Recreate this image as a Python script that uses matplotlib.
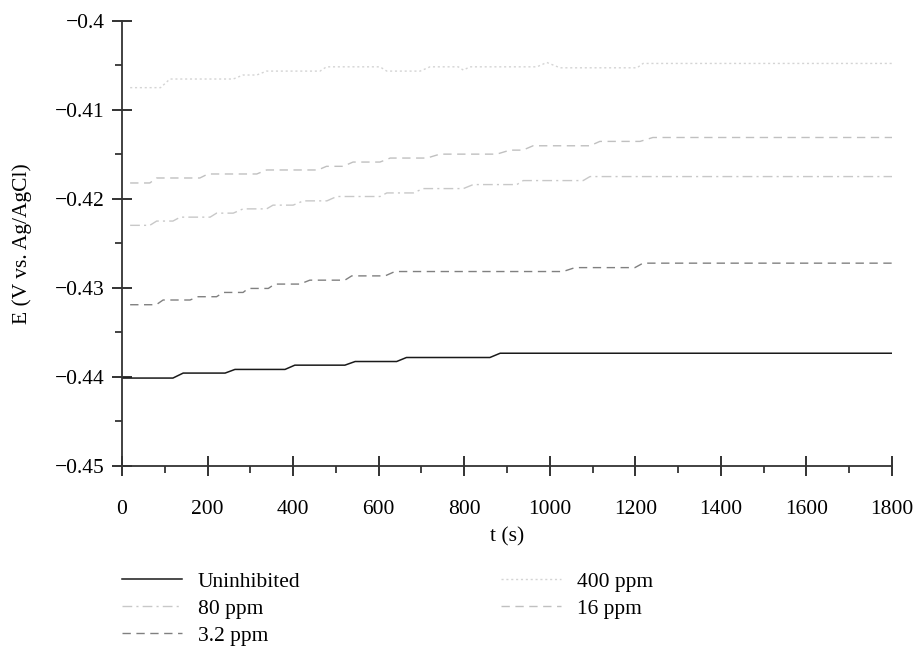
import numpy as np
import matplotlib
matplotlib.use("Agg")
import matplotlib.pyplot as plt

plt.rcParams['font.family'] = ['Liberation Serif', 'DejaVu Serif']

# open circuit potential vs time (hold points of each step)
t_uninh = [0, 119, 143, 241, 264, 381, 404, 521, 545, 642, 665, 860, 884, 1800]
e_uninh = [-0.44012, -0.44012, -0.43956, -0.43956, -0.43915, -0.43915, -0.43867,
           -0.43867, -0.43826, -0.43826, -0.43781, -0.43781, -0.43733, -0.43733]

t_400 = [19, 90, 112, 260, 283, 315, 338, 463, 478, 603, 619, 697, 720, 786,
         798, 813, 970, 993, 1024, 1204, 1218, 1800]
e_400 = [-0.40749, -0.40749, -0.40652, -0.40652, -0.40607, -0.40607, -0.40563,
         -0.40563, -0.40515, -0.40515, -0.40563, -0.40563, -0.40515, -0.40515,
         -0.40552, -0.40515, -0.40515, -0.40466, -0.40526, -0.40526, -0.40477, -0.40477]

t_80 = [19, 65, 81, 119, 136, 206, 221, 260, 283, 338, 353, 400, 424, 479,
        502, 603, 619, 681, 704, 798, 821, 923, 938, 1078, 1094, 1800]
e_80 = [-0.42296, -0.42296, -0.42248, -0.42248, -0.42204, -0.42204, -0.42159,
        -0.42159, -0.42111, -0.42111, -0.42069, -0.42069, -0.42021, -0.42021,
        -0.41972, -0.41972, -0.41932, -0.41932, -0.41883, -0.41883, -0.41838,
        -0.41838, -0.41793, -0.41793, -0.41748, -0.41748]

t_16 = [19, 65, 81, 182, 201, 315, 338, 458, 478, 517, 540, 603, 627, 713,
        743, 876, 907, 937, 961, 1094, 1117, 1211, 1241, 1800]
e_16 = [-0.4182, -0.4182, -0.41764, -0.41764, -0.41719, -0.41719, -0.41674,
        -0.41674, -0.41633, -0.41633, -0.41585, -0.41585, -0.41540, -0.41540,
        -0.41496, -0.41496, -0.41451, -0.41451, -0.41402, -0.41402, -0.41353,
        -0.41353, -0.41309, -0.41309]

t_3 = [19, 80, 96, 159, 178, 221, 237, 283, 295, 342, 357, 416, 439, 521,
       537, 615, 638, 1031, 1059, 1199, 1218, 1800]
e_3 = [-0.43188, -0.43188, -0.43135, -0.43135, -0.43098, -0.43098, -0.43050,
       -0.43050, -0.43005, -0.43005, -0.42956, -0.42956, -0.42912, -0.42912,
       -0.42864, -0.42864, -0.42815, -0.42815, -0.42771, -0.42771, -0.42721, -0.42721]

fs = 15.5

fig = plt.figure(figsize=(9.16, 6.58), dpi=100)
ax = fig.add_axes([0.1332, 0.2918, 0.8406, 0.6763])

l_un, = ax.plot(t_uninh, e_uninh, color='#1a1a1a', lw=1.1, label='Uninhibited')
l_400, = ax.plot(t_400, e_400, color='#d4d4d4', lw=1.0, ls=(0, (1.5, 2)), label='400 ppm')
l_80, = ax.plot(t_80, e_80, color='#c8c8c8', lw=1.0, ls=(0, (7, 3, 1.5, 3)), label='80 ppm')
l_16, = ax.plot(t_16, e_16, color='#c0c0c0', lw=1.0, ls=(0, (6, 4)), label='16 ppm')
l_3, = ax.plot(t_3, e_3, color='#808080', lw=1.0, ls=(0, (6, 4)), label='3.2 ppm')

ax.set_xlim(0, 1800)
ax.set_ylim(-0.45, -0.4)
ax.set_xticks(np.arange(0, 1801, 200))
ax.set_xticks(np.arange(100, 1800, 200), minor=True)
ax.set_yticks([-0.45, -0.44, -0.43, -0.42, -0.41, -0.4])
ax.set_yticklabels(['−0.45', '−0.44', '−0.43', '−0.42', '−0.41', '−0.4'])
ax.set_yticks(np.arange(-0.445, -0.4, 0.01), minor=True)

for s in ['top', 'right']:
    ax.spines[s].set_visible(False)
for s in ['left', 'bottom']:
    ax.spines[s].set_color('#333333')
    ax.spines[s].set_linewidth(1.3)

ax.tick_params(which='major', direction='inout', length=14.5, width=1.3,
               color='#222222', labelsize=fs)
ax.tick_params(axis='x', which='major', pad=17.5)
ax.tick_params(axis='y', which='major', pad=5)
ax.tick_params(which='minor', direction='out', length=5, width=1.2, color='#222222')

ax.set_xlabel('t (s)', fontsize=fs, labelpad=6)
ax.set_ylabel('E (V vs. Ag/AgCl)', fontsize=fs, labelpad=17)

handles = [l_un, l_80, l_3, l_400, l_16]
leg = fig.legend(handles=handles, labels=[h.get_label() for h in handles],
                 ncol=2, loc='upper left', frameon=False, fontsize=fs,
                 handlelength=2.78, handletextpad=0.74, columnspacing=9.33,
                 labelspacing=0.32, borderaxespad=0, borderpad=0)
leg.set_bbox_to_anchor((0.1332, 0.131), transform=fig.transFigure)

fig.savefig('out.png', dpi=100)
